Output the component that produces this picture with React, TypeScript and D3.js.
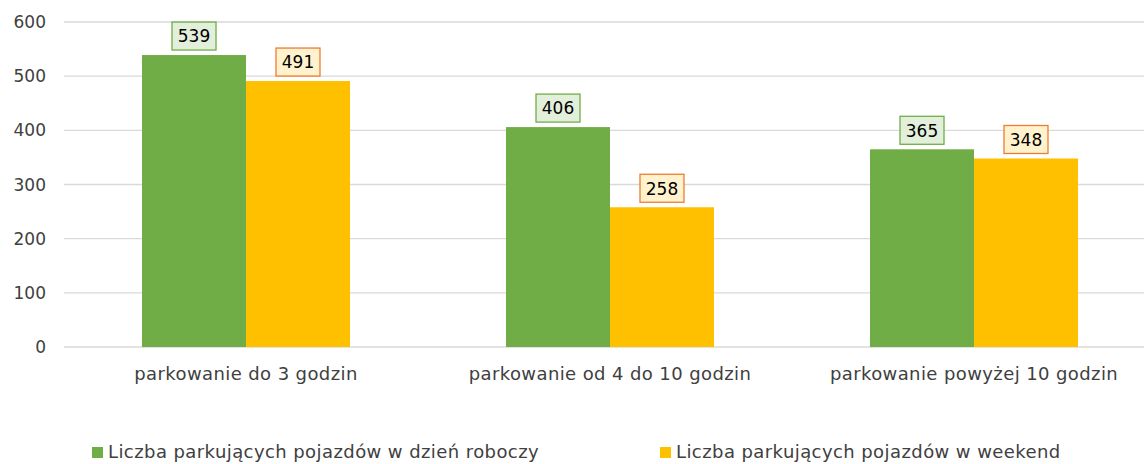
import React, { useEffect, useRef } from "react";
import * as d3 from "d3";

const categories = [
  "parkowanie do 3 godzin",
  "parkowanie od 4 do 10 godzin",
  "parkowanie powyżej 10 godzin",
];
const seriesNames = [
  "Liczba parkujących pojazdów w dzień roboczy",
  "Liczba parkujących pojazdów w weekend",
];
const weekday = [539, 406, 365];
const weekend = [491, 258, 348];
const yTicks = [0, 100, 200, 300, 400, 500, 600];

const colors = ["#70ad47", "#ffc000"];
const labelFill = ["#e2efda", "#fff2cc"];
const labelStroke = ["#70ad47", "#ed7d31"];

const App = () => {
  const svgRef = useRef<SVGSVGElement>(null);

  useEffect(() => {
    const svg = d3.select(svgRef.current);
    svg.selectAll("*").remove();

    const width = 1144;
    const font = "DejaVu Sans, Verdana, sans-serif";

    const x = d3
      .scaleBand()
      .domain(categories)
      .range([64, 1156])
      .paddingInner(0.4286)
      .paddingOuter(0.2143);
    const x1 = d3.scaleBand().domain(["0", "1"]).range([0, x.bandwidth()]);
    const y = d3.scaleLinear().domain([0, 600]).range([347, 22]);

    // linie siatki
    svg
      .append("g")
      .selectAll("line")
      .data(yTicks)
      .join("line")
      .attr("x1", 64)
      .attr("x2", width)
      .attr("y1", (d) => y(d))
      .attr("y2", (d) => y(d))
      .attr("stroke", "#d9d9d9")
      .attr("stroke-width", 1.3);

    // oś Y
    svg
      .append("g")
      .selectAll("text")
      .data(yTicks)
      .join("text")
      .attr("x", 46)
      .attr("y", (d) => y(d))
      .attr("dy", "0.36em")
      .attr("text-anchor", "end")
      .attr("font-family", font)
      .attr("font-size", 17)
      .attr("fill", "#404040")
      .text((d) => d);

    const series = [weekday, weekend];
    series.forEach((vals, si) => {
      const g = svg.append("g");
      g.selectAll("rect")
        .data(vals)
        .join("rect")
        .attr("x", (d, i) => x(categories[i])! + x1(String(si))!)
        .attr("y", (d) => y(d))
        .attr("width", x1.bandwidth())
        .attr("height", (d) => y(0) - y(d))
        .attr("fill", colors[si]);

      const lab = g
        .selectAll("g.lab")
        .data(vals)
        .join("g")
        .attr("class", "lab")
        .attr(
          "transform",
          (d, i) =>
            `translate(${x(categories[i])! + x1(String(si))! + x1.bandwidth() / 2},${y(d) - 19})`
        );
      lab
        .append("rect")
        .attr("x", -22)
        .attr("y", -14)
        .attr("width", 44)
        .attr("height", 28)
        .attr("fill", labelFill[si])
        .attr("stroke", labelStroke[si])
        .attr("stroke-width", 1.3);
      lab
        .append("text")
        .attr("text-anchor", "middle")
        .attr("dy", "0.37em")
        .attr("font-family", font)
        .attr("font-size", 17)
        .attr("fill", "#000")
        .text((d) => d);
    });

    // etykiety kategorii
    svg
      .append("g")
      .selectAll("text")
      .data(categories)
      .join("text")
      .attr("x", (d) => x(d)! + x.bandwidth() / 2)
      .attr("y", 374)
      .attr("dy", "0.35em")
      .attr("text-anchor", "middle")
      .attr("font-family", font)
      .attr("font-size", 18)
      .attr("letter-spacing", 0.4)
      .attr("fill", "#404040")
      .text((d) => d);

    // legenda
    const legendX = [92, 660];
    seriesNames.forEach((name, i) => {
      const lg = svg.append("g").attr("transform", `translate(${legendX[i]},452)`);
      lg.append("rect")
        .attr("x", 0)
        .attr("y", -5)
        .attr("width", 11)
        .attr("height", 11)
        .attr("fill", colors[i]);
      lg.append("text")
        .attr("x", 16)
        .attr("dy", "0.35em")
        .attr("font-family", font)
        .attr("font-size", 18)
        .attr("letter-spacing", 0.42)
        .attr("fill", "#404040")
        .text(name);
    });
  }, []);

  return (
    <svg
      ref={svgRef}
      width={1144}
      height={464}
      style={{ position: "absolute", left: 0, top: 0, background: "#fff" }}
    ></svg>
  );
};

export default App;
